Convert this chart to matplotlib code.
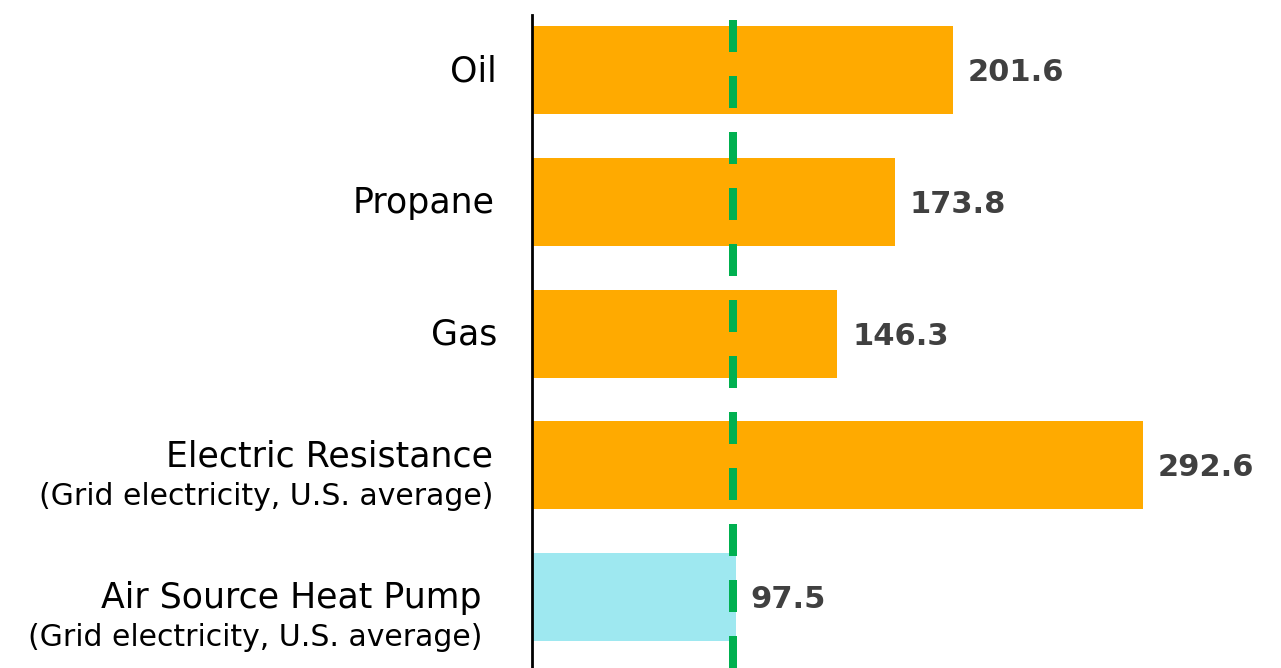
import matplotlib.pyplot as plt
from matplotlib.transforms import blended_transform_factory, offset_copy

# Chart data
categories = ["Oil", "Propane", "Gas", "Electric Resistance", "Air Source Heat Pump"]
sublabels = ["", "", "", "(Grid electricity, U.S. average)", "(Grid electricity, U.S. average)"]
values = [201.6, 173.8, 146.3, 292.6, 97.5]
bar_colors = ["#FFAA00", "#FFAA00", "#FFAA00", "#FFAA00", "#9EE8F0"]
reference_value = 96.3

plt.rcParams['font.family'] = ['DejaVu Sans']

fig = plt.figure(figsize=(12.81, 6.68), dpi=100)
ax = fig.add_axes([532 / 1281, 0, 749 / 1281, 653 / 668])

pos = list(range(len(categories)))
ax.barh(pos, values, height=0.667, color=bar_colors, zorder=1)

# dashed reference line
ax.axvline(reference_value, color="#00B050", lw=5.76, ls=(0, (4.0, 3.0)), zorder=2)

ax.set_xlim(0, 358.7)
ax.set_ylim(4.54, -0.42)

for side in ["top", "right", "bottom"]:
    ax.spines[side].set_visible(False)
ax.spines["left"].set_linewidth(2)
ax.spines["left"].set_color("black")
ax.set_xticks([])
ax.set_yticks([])

# value labels
for p, v in zip(pos, values):
    ax.text(v + 7, p + 0.02, f"{v:.1f}", ha="left", va="center",
            fontsize=22, fontweight="bold", color="#404040")

# category labels (main line + optional sub line)
trans = blended_transform_factory(ax.transAxes, ax.transData)
label_pad = [35, 37, 35, 39, 50]
main_shift = [0.01, 0.01, 0.01, -0.07, 0.01]
sub_shift = [0, 0, 0, 0.235, 0.31]
for p, name, sub, pad, ms, ss in zip(pos, categories, sublabels, label_pad, main_shift, sub_shift):
    t = offset_copy(trans, fig=fig, x=-pad, y=0, units="dots")
    ax.text(0, p + ms, name, transform=t, ha="right", va="center",
            fontsize=25, color="black")
    if sub:
        ax.text(0, p + ss, sub, transform=t, ha="right", va="center",
                fontsize=21.5, color="black")

fig.savefig("out.png", dpi=100)
